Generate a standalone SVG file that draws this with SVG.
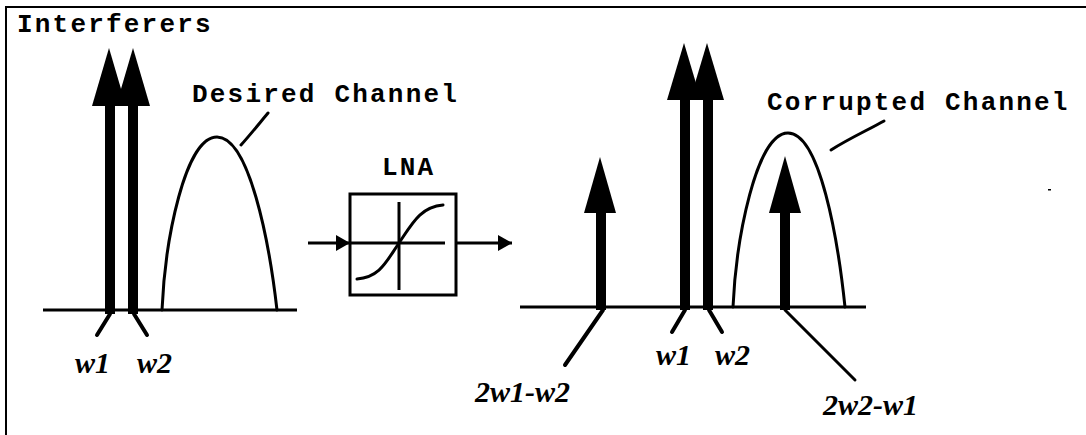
<svg xmlns="http://www.w3.org/2000/svg" width="1086" height="435" viewBox="0 0 1086 435">
<style>
.t{font-family:"Liberation Mono","Courier New",monospace;font-weight:bold;font-size:26px;letter-spacing:2.2px;fill:#000}
.l{font-family:"Liberation Serif","Times New Roman",serif;font-weight:bold;font-style:italic;font-size:30px;fill:#000}
.ax{stroke:#000;stroke-width:3;fill:none}
.cv{stroke:#000;stroke-width:3;fill:none;stroke-linecap:round}
.tk{stroke:#000;stroke-width:4;fill:none;stroke-linecap:round}
.f{fill:#000}
</style>
<defs>
<marker id="ah" markerUnits="userSpaceOnUse" markerWidth="14" markerHeight="16" refX="14" refY="8" orient="auto">
<path d="M0,0 L14,8 L0,16 z" fill="#000"/>
</marker>
</defs>
<rect width="1086" height="435" fill="#fff"/>
<g id="frame">
<line x1="6" y1="7" x2="1086" y2="7" stroke="#000" stroke-width="2"/>
<line x1="6" y1="6" x2="6" y2="435" stroke="#000" stroke-width="2"/>
</g>
<g id="title"><text class="t" x="17" y="32">Interferers</text></g>

<g id="input-spectrum">
<line class="ax" x1="43" y1="310" x2="297" y2="310"/>
<polygon class="f" points="109,48 126,106 92,106"/>
<polygon class="f" points="133,48 150,106 116,106"/>
<rect class="f" x="105" y="100" width="10" height="214"/>
<rect class="f" x="128" y="100" width="10" height="214"/>
<path class="cv" d="M162,310 C165,240 185,137 217,137 C249,137 269,240 277,310"/>
<line class="tk" x1="110" y1="314" x2="97" y2="335"/>
<line class="tk" x1="134" y1="314" x2="147" y2="335"/>
<text class="l" x="75" y="373">w1</text>
<text class="l" x="137" y="373">w2</text>
</g>
<g id="desired-label">
<text class="t" x="192" y="102">Desired Channel</text>
</g>

<g id="lna">
<text class="t" x="382" y="175">LNA</text>
<rect x="350" y="194" width="106" height="101" fill="none" stroke="#000" stroke-width="3"/>
<line class="ax" x1="399" y1="202" x2="399" y2="290"/>
<line class="ax" x1="350" y1="243" x2="445" y2="243"/>
<path class="cv" d="M357,279 C380,277 386,262 399,243 C412,224 420,207 443,205"/>
</g>

<g id="output-spectrum">
<line class="ax" x1="520" y1="307" x2="866" y2="307"/>
<polygon class="f" points="684,43 701,100 667,100"/>
<polygon class="f" points="707,43 724,100 690,100"/>
<rect class="f" x="680" y="95" width="10" height="215"/>
<rect class="f" x="703" y="95" width="10" height="215"/>
<polygon class="f" points="600,157 616,213 584,213"/>
<rect class="f" x="596" y="208" width="10" height="102"/>
<path class="cv" d="M733,307 C736,240 756,133 788,133 C820,133 838,240 845,307"/>
<polygon class="f" points="785,156 801,213 769,213"/>
<rect class="f" x="780" y="208" width="10" height="102"/>
<line class="tk" x1="603" y1="310" x2="565" y2="365"/>
<line class="tk" x1="685" y1="310" x2="672" y2="332"/>
<line class="tk" x1="709" y1="310" x2="722" y2="332"/>
<line class="cv" x1="785" y1="310" x2="855" y2="380"/>
<text class="l" x="656" y="365">w1</text>
<text class="l" x="715" y="365">w2</text>
<text class="l" x="475" y="402">2w1-w2</text>
<text class="l" x="823" y="415">2w2-w1</text>
<rect class="f" x="1048" y="189" width="3" height="1.5"/>
</g>
<g id="corrupted-label">
<text class="t" x="767" y="110">Corrupted Channel</text>
</g>

<g id="connectors">
<line x1="308" y1="243" x2="350" y2="243" stroke="#000" stroke-width="3" marker-end="url(#ah)"/>
<line x1="457" y1="243" x2="512" y2="243" stroke="#000" stroke-width="3" marker-end="url(#ah)"/>
<path class="cv" d="M241,145 C250,135 258,125 268,113"/>
<path class="cv" d="M831,150 C850,138 868,130 884,121"/>
</g>
</svg>
